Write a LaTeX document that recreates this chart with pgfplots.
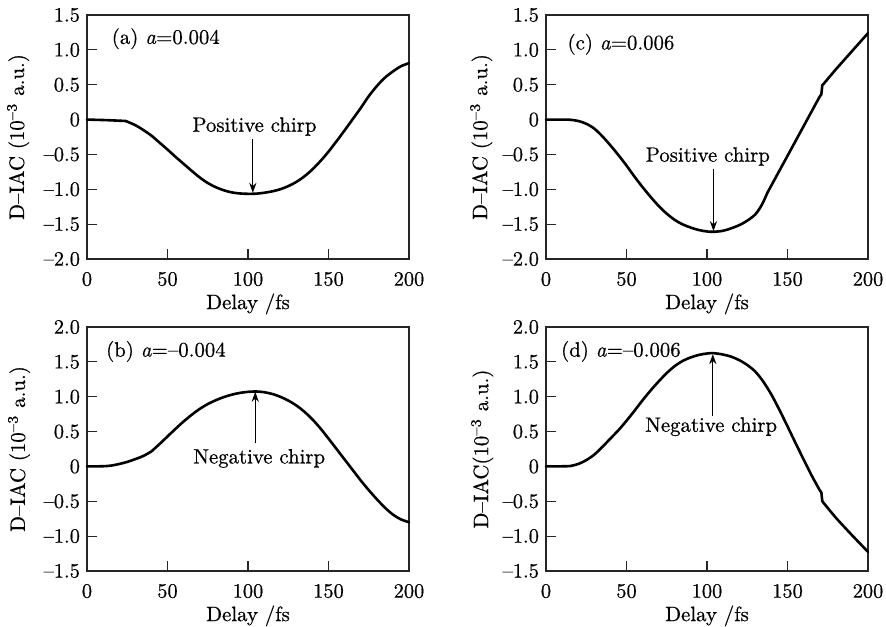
\documentclass[border=0pt]{standalone}
\usepackage{fontspec}
\setmainfont{Latin Modern Roman}[FakeBold=0.6]
\usepackage{pgfplots}
\pgfplotsset{compat=1.18}
\usetikzlibrary{arrows.meta}

\pgfplotsset{
  diac/.style={
    scale only axis, width=161pt, height=122pt,
    xmin=0, xmax=200,
    xtick={0,50,100,150,200}, xticklabels={0,50,100,150,200},
    tick align=inside, tick pos=left, major tick length=5pt,
    axis line style={line width=0.6pt, black!85},
    every tick/.style={line width=0.6pt, black!85},
    tick label style={font=\fontsize{10.2}{12}\selectfont},
    xticklabel style={yshift=-3pt},
    label style={font=\fontsize{10.4}{12}\selectfont},
    xlabel={Delay /fs},
    xlabel style={at={(axis description cs:0.5,-0.184)}, anchor=center},
    clip=false,
  },
  topy/.style={ymin=-2, ymax=1.5, ytick={-2,-1.5,-1,-0.5,0,0.5,1,1.5},
    yticklabels={--2.0,--1.5,--1.0,--0.5,0,0.5,1.0,1.5}},
  boty/.style={ymin=-1.5, ymax=2, ytick={-1.5,-1,-0.5,0,0.5,1,1.5,2},
    yticklabels={--1.5,--1.0,--0.5,0,0.5,1.0,1.5,2.0}},
  curve/.style={black, line width=1.3pt, line join=round, line cap=round, no marks},
}
\newcommand{\lab}{\fontsize{10.4}{12}\selectfont}
\tikzset{chirp/.style={line width=0.5pt, -{Stealth[length=5pt,width=3.6pt]}}}

\begin{document}
\begin{tikzpicture}
\path[use as bounding box] (0,0) rectangle (443pt,313pt);

% (a) a = 0.004
\begin{axis}[diac, topy, at={(43.5pt,183.5pt)}, anchor=south west,
  ylabel={D--IAC (10\textsuperscript{--3} a.u.)},
  ylabel style={at={(axis description cs:-0.214,0.5)}, anchor=center}]
\addplot[curve] coordinates {(0,0) (12,-0.008) (24,-0.02)};
\addplot[curve, smooth, tension=0.5] coordinates {
  (24,-0.02) (30,-0.08) (35,-0.15) (40,-0.23) (45,-0.33) (50,-0.43)
  (55,-0.535) (60,-0.635) (65,-0.735) (70,-0.83) (75,-0.91) (80,-0.97)
  (85,-1.015) (90,-1.045) (95,-1.06) (100,-1.065) (105,-1.063) (110,-1.05)
  (115,-1.03) (120,-1.00) (125,-0.955) (130,-0.895) (135,-0.815) (140,-0.715)
  (145,-0.595) (150,-0.46) (155,-0.31) (160,-0.155) (165,0.005) (170,0.165)
  (175,0.335) (180,0.48) (185,0.60) (190,0.69) (195,0.765) (200,0.81)};
\node[font=\lab, anchor=west] at (axis cs:11,1.16) {(a) \textit{a}=0.004};
\node[font=\lab] at (axis cs:104,-0.10) {Positive chirp};
\draw[chirp] (axis cs:103,-0.28) -- (axis cs:103,-1.05);
\end{axis}

% (c) a = 0.006
\begin{axis}[diac, topy, at={(273pt,183.5pt)}, anchor=south west,
  ylabel={D--IAC (10\textsuperscript{--3} a.u.)},
  ylabel style={at={(axis description cs:-0.201,0.5)}, anchor=center}]
\addplot[curve, smooth, tension=0.5] coordinates {
  (0,0) (10,0) (15,-0.003) (20,-0.02) (25,-0.06) (30,-0.13) (35,-0.24)
  (40,-0.37) (45,-0.51) (50,-0.66) (55,-0.82) (60,-0.97) (65,-1.11)
  (70,-1.24) (75,-1.35) (80,-1.44) (85,-1.505) (90,-1.55) (95,-1.585)
  (100,-1.605) (104,-1.61) (110,-1.595) (115,-1.56) (120,-1.515) (125,-1.45)
  (130,-1.36) (134,-1.225) (137.5,-1.05)};
\addplot[curve] coordinates {
  (137.5,-1.05) (150,-0.52) (160,-0.095) (170,0.33) (171,0.36)
  (171.6,0.49) (180,0.72) (190,0.98) (200,1.24)};
\node[font=\lab, anchor=west] at (axis cs:9,1.08) {(c) \textit{a}=0.006};
\node[font=\lab] at (axis cs:100.5,-0.53) {Positive chirp};
\draw[chirp] (axis cs:104,-0.71) -- (axis cs:104,-1.60);
\end{axis}

% (b) a = -0.004
\begin{axis}[diac, boty, at={(43.5pt,27.5pt)}, anchor=south west,
  ylabel={D--IAC (10\textsuperscript{--3} a.u.)},
  ylabel style={at={(axis description cs:-0.211,0.5)}, anchor=center}]
\addplot[curve, smooth, tension=0.5] coordinates {
  (0,0) (10,0.003) (15,0.012) (20,0.035) (25,0.065) (30,0.105) (35,0.15)
  (40,0.215)};
\addplot[curve, smooth, tension=0.5] coordinates {
  (40,0.215) (45,0.32) (50,0.43) (55,0.54) (60,0.645) (65,0.74) (70,0.825)
  (75,0.895) (80,0.95) (85,0.995) (90,1.03) (95,1.055) (100,1.07) (105,1.075)
  (110,1.065) (115,1.04) (120,1.00) (125,0.945) (130,0.875) (135,0.785)
  (140,0.675) (145,0.545) (150,0.40) (155,0.25) (160,0.10) (165,-0.05)
  (170,-0.20) (175,-0.34) (180,-0.47) (185,-0.59) (190,-0.69) (195,-0.76)
  (200,-0.80)};
\node[font=\lab, anchor=west] at (axis cs:7.5,1.65) {(b) \textit{a}=--0.004};
\node[font=\lab] at (axis cs:107,0.115) {Negative chirp};
\draw[chirp] (axis cs:104.5,0.33) -- (axis cs:104.5,1.07);
\end{axis}

% (d) a = -0.006
\begin{axis}[diac, boty, at={(273pt,27.5pt)}, anchor=south west,
  ylabel={D--IAC(10\textsuperscript{--3} a.u.)},
  ylabel style={at={(axis description cs:-0.198,0.5)}, anchor=center}]
\addplot[curve, smooth, tension=0.5] coordinates {
  (0,0) (10,0.002) (15,0.006) (20,0.035) (25,0.09) (30,0.17) (35,0.28)
  (40,0.40) (45,0.52) (50,0.655) (55,0.80) (60,0.95) (65,1.09) (70,1.22)
  (75,1.34) (80,1.44) (85,1.515) (90,1.565) (95,1.60) (100,1.62) (104,1.625)
  (110,1.605) (115,1.575) (120,1.525) (125,1.455) (130,1.36) (135,1.215)
  (140,1.03) (145,0.81) (150,0.575) (155,0.335) (160,0.10) (165,-0.13)
  (170,-0.34) (171,-0.37)};
\addplot[curve, smooth, tension=0.4] coordinates {
  (171.6,-0.50) (180,-0.735) (190,-0.985) (200,-1.225)};
\addplot[curve] coordinates {(171,-0.37) (171.6,-0.50)};
\node[font=\lab, anchor=west] at (axis cs:5,1.65) {(d) \textit{a}=--0.006};
\node[font=\lab] at (axis cs:102.6,0.57) {Negative chirp};
\draw[chirp] (axis cs:103.6,0.72) -- (axis cs:103.6,1.61);
\end{axis}
\end{tikzpicture}
\end{document}
